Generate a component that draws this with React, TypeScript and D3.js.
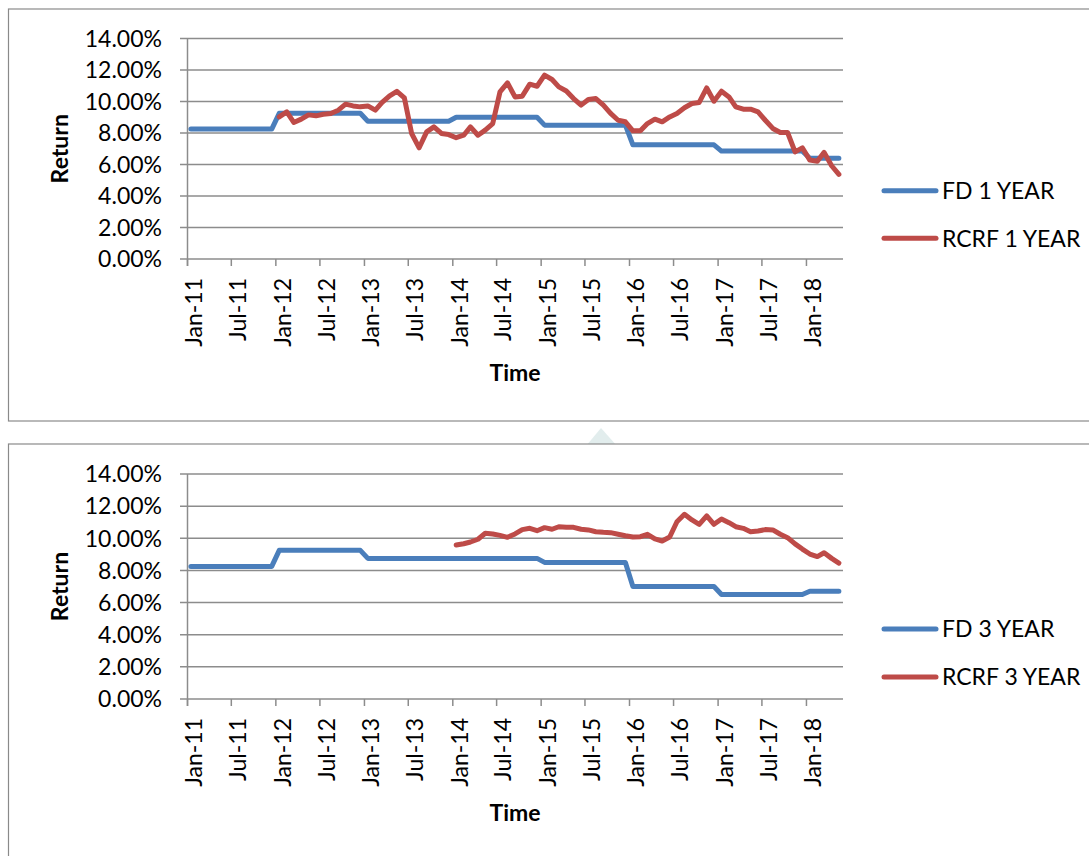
import React from "react";
import * as d3 from "d3";

// ---- data ----
const months: Date[] = d3.timeMonth.range(new Date(2011, 0, 1), new Date(2018, 5, 1)); // Jan-11 .. May-18
const xTickDates: Date[] = d3.timeMonth.every(6)!.range(new Date(2011, 0, 1), new Date(2018, 1, 1));
const yTicks = [0, 2, 4, 6, 8, 10, 12, 14];

const fd1Year = [
  8.25, 8.25, 8.25, 8.25, 8.25, 8.25, 8.25, 8.25, 8.25, 8.25, 8.25, 8.25,
  9.25, 9.25, 9.25, 9.25, 9.25, 9.25, 9.25, 9.25, 9.25, 9.25, 9.25, 9.25,
  8.75, 8.75, 8.75, 8.75, 8.75, 8.75, 8.75, 8.75, 8.75, 8.75, 8.75, 8.75,
  9.0, 9.0, 9.0, 9.0, 9.0, 9.0, 9.0, 9.0, 9.0, 9.0, 9.0, 9.0,
  8.5, 8.5, 8.5, 8.5, 8.5, 8.5, 8.5, 8.5, 8.5, 8.5, 8.5, 8.5,
  7.25, 7.25, 7.25, 7.25, 7.25, 7.25, 7.25, 7.25, 7.25, 7.25, 7.25, 7.25,
  6.85, 6.85, 6.85, 6.85, 6.85, 6.85, 6.85, 6.85, 6.85, 6.85, 6.85, 6.85,
  6.4, 6.4, 6.4, 6.4, 6.4,
];

// starts Jan-12
const rcrf1YearStart = 12;
const rcrf1Year = [
  9.02, 9.34, 8.67, 8.88, 9.15, 9.09, 9.19, 9.24, 9.45, 9.83, 9.72, 9.66,
  9.72, 9.45, 9.94, 10.36, 10.65, 10.23, 7.97, 7.06, 8.07, 8.39, 7.97, 7.9,
  7.7, 7.86, 8.39, 7.86, 8.18, 8.6, 10.61, 11.18, 10.29, 10.34, 11.1, 10.97,
  11.67, 11.4, 10.93, 10.67, 10.19, 9.77, 10.13, 10.19, 9.77, 9.24, 8.81, 8.71,
  8.14, 8.14, 8.6, 8.88, 8.71, 9.02, 9.24, 9.6, 9.87, 9.94, 10.86, 10.02,
  10.65, 10.29, 9.66, 9.51, 9.51, 9.34, 8.81, 8.29, 8.03, 8.03, 6.8, 7.06,
  6.28, 6.21, 6.77, 5.92, 5.37,
];

const fd3Year = [
  8.25, 8.25, 8.25, 8.25, 8.25, 8.25, 8.25, 8.25, 8.25, 8.25, 8.25, 8.25,
  9.25, 9.25, 9.25, 9.25, 9.25, 9.25, 9.25, 9.25, 9.25, 9.25, 9.25, 9.25,
  8.75, 8.75, 8.75, 8.75, 8.75, 8.75, 8.75, 8.75, 8.75, 8.75, 8.75, 8.75,
  8.75, 8.75, 8.75, 8.75, 8.75, 8.75, 8.75, 8.75, 8.75, 8.75, 8.75, 8.75,
  8.5, 8.5, 8.5, 8.5, 8.5, 8.5, 8.5, 8.5, 8.5, 8.5, 8.5, 8.5,
  7.0, 7.0, 7.0, 7.0, 7.0, 7.0, 7.0, 7.0, 7.0, 7.0, 7.0, 7.0,
  6.5, 6.5, 6.5, 6.5, 6.5, 6.5, 6.5, 6.5, 6.5, 6.5, 6.5, 6.5,
  6.7, 6.7, 6.7, 6.7, 6.7,
];

// starts Jan-14
const rcrf3YearStart = 36;
const rcrf3Year = [
  9.58, 9.66, 9.77, 9.94, 10.31, 10.27, 10.18, 10.06, 10.27, 10.54, 10.62, 10.47,
  10.66, 10.56, 10.72, 10.68, 10.68, 10.56, 10.52, 10.41, 10.37, 10.35, 10.25, 10.16,
  10.08, 10.1, 10.25, 9.96, 9.83, 10.08, 11.03, 11.49, 11.14, 10.87, 11.39, 10.87,
  11.2, 10.97, 10.72, 10.62, 10.41, 10.45, 10.54, 10.52, 10.25, 10.04, 9.65, 9.33,
  9.02, 8.86, 9.1, 8.75, 8.46,
];

const BLUE = "#4a7ebb";
const RED = "#be4b48";
const GRID = "#8c8c8c";
const FONT = "Lato, 'Open Sans', sans-serif";
const FS = 23;

type Panel = {
  boxY: number;
  boxH: number;
  plotTop: number;
  plotBottom: number;
  legendY: [number, number];
  fd: number[];
  rcrf: number[];
  rcrfStart: number;
  names: [string, string];
};

const X0 = 187.5;
const X1 = 843;

function ChartPanel({ p }: { p: Panel }) {
  const x = d3.scaleTime().domain([new Date(2011, 0, 1), new Date(2018, 5, 1)]).range([X0, X1]);
  const y = d3.scaleLinear().domain([0, 14]).range([p.plotBottom, p.plotTop]);
  const px = (m: number) => x(d3.timeDay.offset(months[m], 14));
  const line = d3
    .line<[number, number]>()
    .x((d) => px(d[0]))
    .y((d) => y(d[1]));
  const fdPts: [number, number][] = p.fd.map((v, i) => [i, v]);
  const rcPts: [number, number][] = p.rcrf.map((v, i) => [i + p.rcrfStart, v]);
  return (
    <g>
      <rect x={8.5} y={p.boxY} width={1100} height={p.boxH} fill="#fff" stroke="#8a8a8a" strokeWidth={1.2} />
      {yTicks.map((t) => (
        <g key={t}>
          <line x1={180} x2={X1} y1={y(t)} y2={y(t)} stroke={GRID} strokeWidth={1.5} />
          <text x={162} y={y(t)} dy="0.36em" textAnchor="end" fontFamily={FONT} fontSize={FS} fill="#000">
            {d3.format(".2f")(t) + "%"}
          </text>
        </g>
      ))}
      <line x1={X0} x2={X0} y1={p.plotTop} y2={p.plotBottom + 7} stroke={GRID} strokeWidth={1.5} />
      {xTickDates.map((d, i) => (
        <g key={i}>
          <line x1={x(d)} x2={x(d)} y1={p.plotBottom} y2={p.plotBottom + 7} stroke={GRID} strokeWidth={1.5} />
          <text
            transform={`translate(${x(d) + 6.5},${p.plotBottom + 19}) rotate(-90)`}
            dy="0.36em"
            textAnchor="end"
            fontFamily={FONT}
            fontSize={FS}
            fill="#000"
          >
            {d3.timeFormat("%b-%y")(d)}
          </text>
        </g>
      ))}
      <path d={line(fdPts) || ""} fill="none" stroke={BLUE} strokeWidth={5} strokeLinejoin="round" strokeLinecap="round" />
      <path d={line(rcPts) || ""} fill="none" stroke={RED} strokeWidth={5} strokeLinejoin="round" strokeLinecap="round" />
      <text
        transform={`translate(68,${(p.plotTop + p.plotBottom) / 2}) rotate(-90)`}
        textAnchor="middle"
        fontFamily={FONT}
        fontWeight="bold"
        fontSize={FS}
        fill="#000"
      >
        Return
      </text>
      <text x={515} y={p.plotBottom + 121.5} textAnchor="middle" fontFamily={FONT} fontWeight="bold" fontSize={FS} fill="#000">
        Time
      </text>
      {[0, 1].map((i) => (
        <g key={i}>
          <line
            x1={884}
            x2={936}
            y1={p.legendY[i]}
            y2={p.legendY[i]}
            stroke={i === 0 ? BLUE : RED}
            strokeWidth={5}
            strokeLinecap="round"
          />
          <text x={942} y={p.legendY[i]} dy="0.36em" fontFamily={FONT} fontSize={FS} fill="#000">
            {p.names[i]}
          </text>
        </g>
      ))}
    </g>
  );
}

const panels: Panel[] = [
  {
    boxY: 9,
    boxH: 412,
    plotTop: 38.5,
    plotBottom: 259,
    legendY: [190.7, 238.3],
    fd: fd1Year,
    rcrf: rcrf1Year,
    rcrfStart: rcrf1YearStart,
    names: ["FD 1 YEAR", "RCRF 1 YEAR"],
  },
  {
    boxY: 444,
    boxH: 500,
    plotTop: 474,
    plotBottom: 699,
    legendY: [629, 677],
    fd: fd3Year,
    rcrf: rcrf3Year,
    rcrfStart: rcrf3YearStart,
    names: ["FD 3 YEAR", "RCRF 3 YEAR"],
  },
];

export default function App() {
  return (
    <div style={{ position: "absolute", left: 0, top: 0 }}>
      <svg width={1089} height={856} viewBox="0 0 1089 856" style={{ display: "block", background: "#fff" }}>
        <rect x={0} y={0} width={1089} height={856} fill="#fff" />
        <polygon points="586,446 601,428 617,446" fill="#d6e6e6" opacity={0.7} />
        {panels.map((p, i) => (
          <ChartPanel key={i} p={p} />
        ))}
      </svg>
    </div>
  );
}
